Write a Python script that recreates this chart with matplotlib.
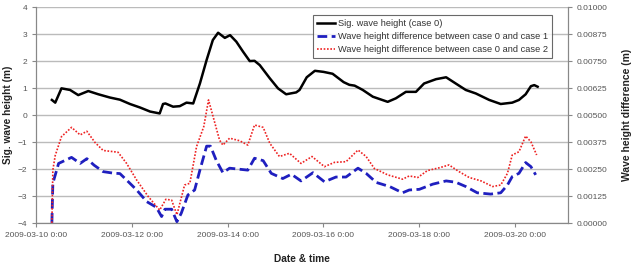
import pandas as pd
import matplotlib.pyplot as plt
import matplotlib.dates as mdates
import numpy as np

plt.rcParams['font.family'] = ['Liberation Sans', 'DejaVu Sans']

t0 = pd.Timestamp('2009-03-10 00:00')

# sig. wave height (case 0), days since 2009-03-10 0:00
hs_days = [0.33, 0.40, 0.53, 0.71, 0.88, 1.09, 1.30, 1.54, 1.75, 1.96, 2.17, 2.38, 2.58, 2.65,
           2.70, 2.86, 3.00, 3.14, 3.28, 3.42, 3.56, 3.69, 3.80, 3.94, 4.05, 4.18, 4.32, 4.46,
           4.56, 4.67, 4.88, 5.05, 5.22, 5.43, 5.50, 5.65, 5.82, 6.00, 6.19, 6.42, 6.54, 6.65,
           6.82, 7.03, 7.34, 7.51, 7.72, 7.93, 8.10, 8.35, 8.56, 8.76, 8.97, 9.18, 9.46, 9.70,
           9.94, 10.08, 10.22, 10.33, 10.40, 10.47]
hs_vals = [0.56, 0.46, 0.99, 0.93, 0.74, 0.89, 0.77, 0.65, 0.57, 0.41, 0.28, 0.13, 0.06, 0.41,
           0.43, 0.31, 0.33, 0.46, 0.43, 1.17, 2.04, 2.78, 3.05, 2.86, 2.96, 2.72, 2.35, 2.00,
           2.01, 1.85, 1.36, 0.99, 0.77, 0.84, 0.93, 1.40, 1.64, 1.60, 1.53, 1.22, 1.12, 1.09,
           0.93, 0.68, 0.49, 0.62, 0.86, 0.86, 1.17, 1.33, 1.40, 1.17, 0.93, 0.80, 0.56, 0.41,
           0.46, 0.56, 0.77, 1.07, 1.11, 1.05]

# wave height difference case 0 - case 1
d1_days = [0.33, 0.35, 0.47, 0.74, 0.92, 1.06, 1.21, 1.40, 1.61, 1.75, 1.89, 2.10, 2.31, 2.51,
           2.62, 2.69, 2.83, 2.94, 3.03, 3.17, 3.31, 3.42, 3.56, 3.64, 3.76, 3.90, 4.04, 4.25,
           4.42, 4.56, 4.74, 4.91, 5.15, 5.33, 5.53, 5.78, 6.02, 6.26, 6.47, 6.72, 6.89, 7.10,
           7.38, 7.65, 7.79, 8.00, 8.28, 8.56, 8.76, 8.97, 9.21, 9.49, 9.70, 9.84, 9.94, 10.08,
           10.22, 10.33, 10.43]
d1_vals = [0.00001, 0.00184, 0.00276, 0.00304, 0.00276, 0.00298, 0.00268, 0.00238, 0.00231,
           0.00229, 0.00199, 0.00153, 0.00099, 0.00073, 0.00030, 0.00064, 0.00064, 0.00006,
           0.00045, 0.00130, 0.00153, 0.00245, 0.00356, 0.00356, 0.00291, 0.00233, 0.00254,
           0.00249, 0.00245, 0.00300, 0.00289, 0.00230, 0.00206, 0.00226, 0.00195, 0.00233,
           0.00191, 0.00213, 0.00213, 0.00254, 0.00230, 0.00188, 0.00169, 0.00140, 0.00153,
           0.00156, 0.00180, 0.00195, 0.00189, 0.00169, 0.00140, 0.00134, 0.00140, 0.00176,
           0.00215, 0.00230, 0.00280, 0.00261, 0.00223]

# wave height difference case 0 - case 2
d2_days = [0.33, 0.35, 0.40, 0.53, 0.74, 0.92, 1.06, 1.23, 1.40, 1.71, 1.89, 2.10, 2.34, 2.58,
           2.71, 2.83, 2.94, 3.10, 3.21, 3.35, 3.50, 3.60, 3.83, 3.90, 4.04, 4.25, 4.42, 4.56,
           4.74, 4.88, 5.08, 5.29, 5.53, 5.76, 6.02, 6.23, 6.47, 6.72, 6.89, 7.06, 7.34, 7.65,
           7.79, 7.97, 8.17, 8.42, 8.62, 8.83, 9.04, 9.29, 9.53, 9.70, 9.84, 9.94, 10.08, 10.22,
           10.33, 10.45]
d2_vals = [0.00000, 0.00245, 0.00313, 0.00400, 0.00443, 0.00408, 0.00425, 0.00373, 0.00336,
           0.00328, 0.00276, 0.00199, 0.00123, 0.00060, 0.00110, 0.00106, 0.00038, 0.00176,
           0.00184, 0.00354, 0.00446, 0.00570, 0.00384, 0.00361, 0.00393, 0.00381, 0.00361,
           0.00454, 0.00443, 0.00369, 0.00308, 0.00323, 0.00276, 0.00308, 0.00261, 0.00281,
           0.00284, 0.00338, 0.00308, 0.00253, 0.00223, 0.00203, 0.00218, 0.00211, 0.00243,
           0.00256, 0.00269, 0.00238, 0.00211, 0.00195, 0.00169, 0.00176, 0.00230, 0.00315,
           0.00330, 0.00403, 0.00376, 0.00315]

def to_time(days):
    return [t0 + pd.Timedelta(days=d) for d in days]

fig = plt.figure(figsize=(6.33, 2.63), dpi=100)
ax = fig.add_axes([0.057, 0.152, 0.84, 0.821])
ax2 = ax.twinx()

grey = '#888888'
txt = '#555555'

l0, = ax.plot(to_time(hs_days), hs_vals, color='black', lw=1.8, label='Sig. wave height (case 0)')
l1, = ax2.plot(to_time(d1_days), d1_vals, color='#1f1fbf', lw=2.0, ls=(0, (3.5, 1.6)),
               label='Wave height difference between case 0 and case 1')
l2, = ax2.plot(to_time(d2_days), d2_vals, color='#ee2222', lw=1.2, ls=(0, (1, 1)),
               label='Wave height difference between case 0 and case 2')

ax.set_xlim(t0, t0 + pd.Timedelta(days=11.1))
ax.set_ylim(-4, 4)
ax.set_yticks(np.arange(-4, 5, 1))
ax2.set_ylim(0, 0.01)
ax2.set_yticks(np.arange(0, 0.0101, 0.00125))
ax2.set_yticklabels([f'{v:.5f}' for v in np.arange(0, 0.0101, 0.00125)])

xt = [t0 + pd.Timedelta(days=d) for d in range(0, 11, 2)]
ax.set_xticks(xt)
ax.xaxis.set_major_formatter(mdates.DateFormatter('%Y-%m-%d 0:00'))

ax.grid(axis='y', color='#bbbbbb', lw=1)
ax.set_axisbelow(True)
for a in (ax, ax2):
    a.tick_params(labelsize=6, colors=txt, length=3, width=0.8)
    a.tick_params(axis='both', color=grey)
    a.spines['top'].set_visible(False)
    for s in ('left', 'right', 'bottom'):
        a.spines[s].set_color(grey)

ax.set_xlabel('Date & time', fontsize=7.3, fontweight='bold', color='#222222', labelpad=11)
ax.set_ylabel('Sig. wave height (m)', fontsize=7.3, fontweight='bold', color='#222222', labelpad=3)
ax2.set_ylabel('Wave height difference (m)', fontsize=7.5, fontweight='bold', color='#222222', labelpad=10)

leg = ax2.legend(handles=[l0, l1, l2], loc='upper left', bbox_to_anchor=(0.52, 0.965),
                 fontsize=6.7, frameon=True, fancybox=False, borderpad=0.45, labelspacing=0.45,
                 handlelength=2.0, handletextpad=0.3, borderaxespad=0)
leg.get_frame().set_edgecolor('#444444')
leg.get_frame().set_linewidth(0.8)
for t in leg.get_texts():
    t.set_color('#333333')

fig.savefig('out.png', dpi=100)
